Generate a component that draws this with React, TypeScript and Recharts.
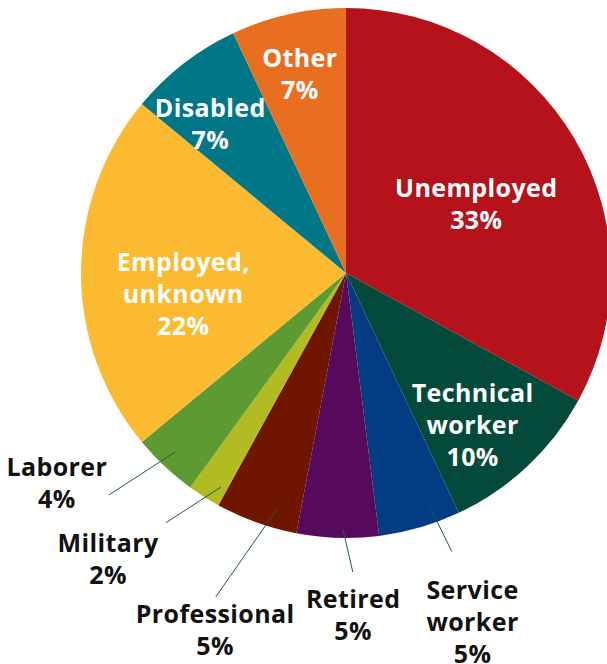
import React from 'react';
import { PieChart, Pie, Cell } from 'recharts';

const categories = ['Unemployed', 'Technical worker', 'Service worker', 'Retired', 'Professional', 'Military', 'Laborer', 'Employed, unknown', 'Disabled', 'Other'];
const shares = [33, 10, 5, 5, 5, 2, 4, 22, 7, 7];
const labelLines = [
  ['Unemployed'],
  ['Technical', 'worker'],
  ['Service', 'worker'],
  ['Retired'],
  ['Professional'],
  ['Military'],
  ['Laborer'],
  ['Employed,', 'unknown'],
  ['Disabled'],
  ['Other'],
];
const colors = ['#B5121B', '#034A3A', '#033C82', '#57095C', '#701500', '#B3BB22', '#5E9A32', '#FBBA30', '#007787', '#E86F1F'];

// label layout: text radius + angle nudge; outside labels get a leader line
type Layout = { r: number; da: number; inside: boolean; leader?: [number, number, number, number] };
const layouts: Layout[] = [
  { r: 148, da: -2.3, inside: true },
  { r: 197, da: -3.2, inside: true },
  { r: 370, da: 3.8, inside: false, leader: [251, 3.6, 298, 4.6] },
  { r: 341, da: 3, inside: false, leader: [256, 1.1, 299, 3.1] },
  { r: 379, da: -0.4, inside: false, leader: [246, 3.5, 349, -2.1] },
  { r: 371, da: -7.5, inside: false, leader: [248, 2.1, 308, -3.4] },
  { r: 357, da: -10.9, inside: false, leader: [248, -0.5, 325, -3.7] },
  { r: 164, da: 7, inside: true },
  { r: 202, da: 4.4, inside: true },
  { r: 205, da: 0.4, inside: true },
];

const data = categories.map((name, i) => ({ name, value: shares[i] }));

const RAD = Math.PI / 180;
const polar = (cx: number, cy: number, r: number, a: number) => ({
  x: cx + r * Math.cos(-a * RAD),
  y: cy + r * Math.sin(-a * RAD),
});

const FONT = '"Open Sans", "Noto Sans", sans-serif';
const LH = 32;
const TEXT_SHIFT = 0;

const renderLabel = (props: any) => {
  const { cx, cy, midAngle, index } = props;
  const lay = layouts[index];
  const lines = [...labelLines[index], `${shares[index]}%`];
  const c = polar(cx, cy, lay.r, midAngle + lay.da);
  const y0 = c.y - ((lines.length - 1) * LH) / 2 + TEXT_SHIFT;
  let leader = null;
  if (lay.leader) {
    const [r1, a1, r2, a2] = lay.leader;
    const p1 = polar(cx, cy, r1, midAngle + a1);
    const p2 = polar(cx, cy, r2, midAngle + a2);
    leader = <line x1={p1.x} y1={p1.y} x2={p2.x} y2={p2.y} stroke="#1E5A4E" strokeWidth={1} />;
  }
  return (
    <g key={`lbl-${index}`}>
      {leader}
      <text
        x={c.x}
        y={y0}
        textAnchor="middle"
        dominantBaseline="central"
        fill={lay.inside ? '#ffffff' : '#111111'}
        fontFamily={FONT}
        fontWeight={700}
        fontSize={25}
        letterSpacing={0.4}
      >
        {lines.map((t, i) => (
          <tspan key={i} x={c.x} y={y0 + i * LH} dominantBaseline="central">
            {t}
          </tspan>
        ))}
      </text>
    </g>
  );
};

export default function App() {
  return (
    <div style={{ position: 'absolute', left: 0, top: 0, width: 607, height: 664, background: '#fff' }}>
      <PieChart width={607} height={664} margin={{ top: 0, right: 0, bottom: 0, left: 0 }}>
        <Pie
          data={data}
          dataKey="value"
          nameKey="name"
          cx={346}
          cy={273}
          outerRadius={265}
          startAngle={90}
          endAngle={-270}
          stroke="none"
          label={renderLabel}
          labelLine={false}
          isAnimationActive={false}
        >
          {data.map((d, i) => (
            <Cell key={d.name} fill={colors[i]} />
          ))}
        </Pie>
      </PieChart>
    </div>
  );
}
